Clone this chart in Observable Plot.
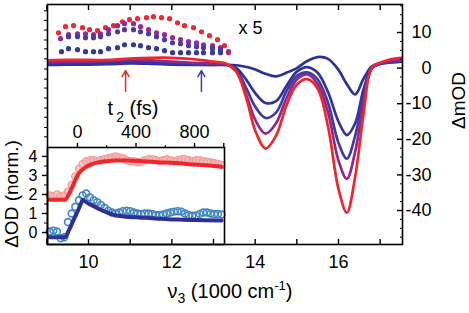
<!DOCTYPE html>
<html><head><meta charset="utf-8">
<script src="https://cdn.jsdelivr.net/npm/d3@7"></script>
<script src="https://cdn.jsdelivr.net/npm/@observablehq/plot@0.6"></script>
<style>
html,body{margin:0;padding:0;background:#fff;}
#chart{position:relative;width:469px;height:313px;}
#chart svg{position:absolute;left:0;top:0;}
</style></head><body><div id="chart"></div>
<script>
const FONT = "'Liberation Sans', Arial, Helvetica, sans-serif";

// ---- main spectra (ΔmOD vs ν3, 1000 cm-1) ----
const nu = [9.05, 9.5, 10, 10.5, 11, 11.5, 12, 12.5, 13, 13.3, 13.55, 13.8, 14.0, 14.25, 14.5, 14.75, 15.0, 15.25, 15.5, 15.75, 16.0, 16.2, 16.4, 16.6, 16.8, 17.0, 17.25, 17.5];
const specNavy1  = [0.9, 1.0, 1.0, 1.1, 1.3, 1.2, 1.0, 0.9, 0.9, 0.9, 0.8, 0.3, -0.4, -1.6, -2.3, -1.3, 0.0, 2.0, 3.1, 2.6, -0.5, -4.5, -7.4, -3.0, 0.5, 1.3, 1.6, 1.8];
const specNavy2  = [1.2, 1.3, 1.3, 1.4, 1.6, 1.5, 1.2, 1.0, 0.9, 0.9, 0.0, -3.5, -7.0, -9.8, -9.3, -5.0, -1.0, 0.3, -1.3, -6.8, -15.0, -18.8, -15.5, -6.0, 0.2, 1.2, 1.6, 1.8];
const specBlue   = [1.5, 1.7, 1.7, 1.9, 2.2, 2.0, 1.6, 1.3, 1.1, 1.0, -0.5, -6.0, -10.8, -14.0, -12.5, -6.5, -2.2, -1.2, -3.2, -9.8, -21.0, -25.4, -19.0, -8.0, 0.0, 1.2, 1.8, 2.0];
const specPurple = [1.7, 1.9, 1.9, 2.1, 2.5, 2.2, 1.8, 1.5, 1.3, 1.1, -1.0, -8.0, -14.5, -18.4, -15.5, -8.5, -3.2, -1.8, -4.5, -12.5, -26.0, -31.1, -23.5, -10.0, 0.0, 1.3, 2.0, 2.3];
const specRed    = [2.2, 2.3, 2.3, 2.3, 2.7, 2.9, 2.9, 2.5, 1.8, 1.3, -1.0, -9.0, -17.5, -22.6, -19.0, -10.5, -4.6, -3.1, -5.8, -16.5, -34.0, -40.6, -30.5, -13.0, 0.3, 1.5, 2.5, 2.9];
const specColors = ["#2e3192", "#33349b", "#403aa3", "#90278f", "#ef272d"];

// ---- x5 magnified dotted spectra ----
const redDotNu  = [9.280, 9.448, 9.640, 9.856, 10.024, 10.216, 10.408, 10.600, 10.816, 10.984, 11.176, 11.392, 11.560, 11.752, 11.944, 12.136, 12.304, 12.520, 12.712, 12.904, 13.096, 13.264, 13.360];
const redDotVal = [9.94, 11.63, 11.91, 11.35, 10.79, 10.51, 11.35, 11.91, 13.03, 13.6, 13.88, 14.16, 14.44, 14.16, 13.88, 12.75, 11.91, 11.35, 10.22, 9.1, 7.98, 6.29, 4.33];
const purpleDotNu  = [9.328, 9.520, 9.736, 9.928, 10.120, 10.288, 10.480, 10.696, 10.864, 11.080, 11.248, 11.440, 11.632, 11.824, 12.016, 12.208, 12.400, 12.592, 12.760, 12.976, 13.168, 13.360];
const purpleDotVal = [8.26, 9.38, 9.66, 9.66, 9.38, 9.66, 10.79, 11.91, 12.47, 12.47, 11.63, 10.79, 9.94, 9.38, 8.54, 7.98, 7.42, 7.13, 6.57, 6.29, 5.73, 4.61];
const blueDotNu  = [9.520, 9.736, 9.928, 10.120, 10.288, 10.480, 10.696, 10.864, 11.080, 11.248, 11.440, 11.632, 11.824, 12.016, 12.208, 12.400, 12.592, 12.760, 12.976, 13.168];
const blueDotVal = [8.82, 8.82, 8.54, 8.54, 8.82, 9.66, 10.22, 10.79, 10.79, 10.22, 9.66, 8.82, 7.98, 7.13, 6.85, 6.29, 6.01, 5.73, 5.45, 5.17];
const navyDotNu  = [9.352, 9.520, 9.736, 9.928, 10.120, 10.288, 10.480, 10.696, 10.864, 11.080, 11.248, 11.440, 11.632, 11.824, 12.016, 12.208, 12.400, 12.592, 12.760, 12.976, 13.168];
const navyDotVal = [4.61, 5.45, 5.17, 4.61, 4.61, 4.61, 5.45, 5.73, 6.57, 6.57, 6.29, 5.73, 5.45, 4.89, 4.33, 4.33, 4.33, 4.33, 4.33, 4.33, 4.33];
const dotColors = ["#ee2a2e", "#962a93", "#4a3ba0", "#34399b"];

// probe frequencies (arrows)
const arrowNu = [10.89, 12.71];
const arrowColors = ["#ee2a2e", "#3b3f9e"];
const arrowTail = -6.6, arrowHead = -0.7;

// ---- inset: kinetics ΔOD (norm.) vs t2 (fs) ----
const insetT = [-190,-165,-140,-115,-90,-65,-40,-15,10,35,60,85,110,135,160,185,210,235,260,285,310,335,360,385,410,435,460,485,510,535,560,585,610,635,660,685,710,735,760,785,810,835,860,885,910,935,960,985];
const redData  = [1.95,1.9,2.0,1.9,1.95,2.15,2.5,2.95,3.35,3.6,3.75,3.8,3.8,3.75,3.8,3.85,3.9,3.95,4.0,3.95,3.9,3.8,3.75,3.75,3.7,3.72,3.8,3.85,3.85,3.8,3.75,3.8,3.85,3.8,3.75,3.8,3.85,3.85,3.8,3.75,3.8,3.8,3.75,3.72,3.7,3.65,3.6,3.55];
const blueData = [0.05,0.1,0.05,-0.3,-0.25,0.55,1.0,1.35,1.7,1.95,2.05,1.85,1.7,1.6,1.45,1.3,1.15,1.05,1.0,1.05,1.12,1.15,1.12,1.05,1.0,0.97,1.0,1.0,0.97,0.93,0.92,0.95,1.0,1.05,1.1,1.12,1.1,1.0,0.92,0.88,0.9,0.98,1.05,1.05,1.0,0.97,0.97,0.95];
const redFitT = [-190, -85, -60, -30, 0, 25, 45, 70, 100, 146, 200, 260, 350, 450, 550, 690, 800, 900, 985];
const redFit  = [1.72, 1.72, 2.0, 2.5, 3.0, 3.25, 3.38, 3.5, 3.6, 3.7, 3.75, 3.78, 3.79, 3.75, 3.7, 3.64, 3.57, 3.52, 3.46];
const blueFitT = [-190, -85, -60, -30, 0, 20, 37, 55, 80, 100, 123, 150, 180, 210, 237, 280, 330, 400, 465, 550, 620, 693, 780, 870, 985];
const blueFit  = [-0.25, -0.25, 0.1, 0.6, 1.1, 1.45, 1.72, 1.62, 1.5, 1.42, 1.33, 1.22, 1.12, 1.03, 0.95, 0.88, 0.83, 0.8, 0.77, 0.73, 0.7, 0.68, 0.66, 0.645, 0.63];

// tick values
const xTicksMain = [9, 10, 11, 12, 13, 14, 15, 16, 17];
const xLabelsMain = [10, 12, 14, 16];
const yLabelsRight = [10, 0, -10, -20, -30, -40];
const yMinorRight = [17.5, 15, 12.5, 7.5, 5, 2.5, -2.5, -5, -7.5, -12.5, -15, -17.5, -22.5, -25, -27.5, -32.5, -35, -37.5, -42.5, -45, -47.5];
const yTicksLeft = [16.1, 13.4, 10.7, 7.9, 5.4, 2.6, -0.25, -3.1, -5.6, -8.4, -11.2, -13.8, -16.7, -19.3];
const tLabels = [0, 400, 800];
const tMajor = [0, 400, 800, 1000];
const tMinor = [200, 600];
const odLabels = [0, 1, 2, 3, 4];
const odMinor = [0.5, 1.5, 2.5, 3.5];

// ---- build rows ----
const specSeries = [specNavy1, specNavy2, specBlue, specPurple, specRed];
const specMarks = specSeries.map((vals, k) =>
  Plot.line(vals.map((v, i) => ({nu: nu[i], v})), {x: "nu", y: "v", stroke: specColors[k], strokeWidth: 2.7, curve: "catmull-rom"}));
const dotSeries = [[redDotNu, redDotVal], [purpleDotNu, purpleDotVal], [blueDotNu, blueDotVal], [navyDotNu, navyDotVal]];
const dotMarks = dotSeries.map(([xs, ys], k) =>
  Plot.dot(xs.map((x, i) => ({nu: x, v: ys[i]})), {x: "nu", y: "v", r: 2.6, fill: dotColors[k], stroke: "none"}));
const arrowRows = arrowNu.map((x, i) => ({nu: x, c: arrowColors[i]}));

const blank = () => "";
const main = Plot.plot({
  width: 469, height: 313,
  marginLeft: 47, marginRight: 67, marginTop: 4, marginBottom: 69,
  style: {background: "transparent", fontFamily: FONT, color: "black", overflow: "visible"},
  x: {domain: [9.016, 17.536], axis: null},
  y: {domain: [-49.55, 17.87], axis: null},
  marks: [
    ...dotMarks,
    ...specMarks,
    Plot.arrow(arrowRows, {x1: "nu", x2: "nu", y1: () => arrowTail, y2: () => arrowHead, stroke: "c", strokeWidth: 1.5, headLength: 7}),
    Plot.frame({stroke: "black", strokeWidth: 1.6}),
    Plot.axisX({anchor: "bottom", ticks: xTicksMain, tickSize: -5, tickFormat: blank, label: null, strokeWidth: 1.4}),
    Plot.axisX({anchor: "bottom", ticks: xLabelsMain, tickSize: 0, tickPadding: 11, tickFormat: d => String(d), fontSize: 18, label: null}),
    Plot.axisX({anchor: "top", ticks: xTicksMain, tickSize: -5, tickFormat: blank, label: null, strokeWidth: 1.4}),
    Plot.axisY({anchor: "right", ticks: yLabelsRight, tickSize: -6, tickFormat: blank, label: null, strokeWidth: 1.4}),
    Plot.axisY({anchor: "right", ticks: yMinorRight, tickSize: -3, tickFormat: blank, label: null}),
    Plot.axisY({anchor: "right", ticks: yLabelsRight, tickSize: 0, tickPadding: 29, textAnchor: "end", tickFormat: d => String(d), fontSize: 18, label: null}),
    Plot.axisY({anchor: "left", ticks: yTicksLeft, tickSize: 3, tickFormat: blank, label: null}),
    Plot.text(["x 5"], {frameAnchor: "top-left", dx: 191, dy: 29, textAnchor: "start", lineAnchor: "bottom", fontSize: 18}),
    Plot.text(["ΔmOD"], {frameAnchor: "top-right", dx: 49, dy: 96, textAnchor: "middle", rotate: -90, fontSize: 19}),
    Plot.text(["NU3LABEL"], {frameAnchor: "bottom", dx: 5, dy: 53, textAnchor: "middle", lineAnchor: "bottom", fontSize: 20})
  ]
});

const inset = Plot.plot({
  width: 469, height: 313,
  marginLeft: 47, marginRight: 245, marginTop: 147, marginBottom: 69,
  style: {background: "white", fontFamily: FONT, color: "black", overflow: "visible"},
  x: {domain: [-205, 1005], axis: null},
  y: {domain: [-0.63, 4.47], axis: null},
  marks: [
    Plot.dot(insetT.map((t, i) => ({t, v: redData[i]})), {x: "t", y: "v", r: 3.6, stroke: "#f29c9c", fill: "#f6b3b3", fillOpacity: 0.7, strokeWidth: 1.3}),
    Plot.dot(insetT.map((t, i) => ({t, v: blueData[i]})), {x: "t", y: "v", r: 3.4, stroke: "#3f86c8", fill: "none", strokeWidth: 1.6}),
    Plot.line(redFitT.map((t, i) => ({t, v: redFit[i]})), {x: "t", y: "v", stroke: "#ef272d", strokeWidth: 4, curve: "monotone-x"}),
    Plot.line(blueFitT.map((t, i) => ({t, v: blueFit[i]})), {x: "t", y: "v", stroke: "#2e3192", strokeWidth: 4, curve: "monotone-x"}),
    Plot.frame({stroke: "black", strokeWidth: 1.6}),
    Plot.axisX({anchor: "top", ticks: tMajor, tickSize: 5, tickFormat: blank, label: null, strokeWidth: 1.4}),
    Plot.axisX({anchor: "top", ticks: tMinor, tickSize: 3, tickFormat: blank, label: null}),
    Plot.axisX({anchor: "top", ticks: tLabels, tickSize: 0, tickPadding: 10, tickFormat: d => String(d), fontSize: 18, label: null}),
    Plot.axisY({anchor: "left", ticks: odLabels, tickSize: 5, tickFormat: blank, label: null, strokeWidth: 1.4}),
    Plot.axisY({anchor: "left", ticks: odMinor, tickSize: 3, tickFormat: blank, label: null}),
    Plot.axisY({anchor: "left", ticks: odLabels, tickSize: 0, tickPadding: 10, tickFormat: d => String(d), fontSize: 16, label: null}),
    Plot.text(["T2LABEL"], {frameAnchor: "top", dx: -3, dy: -33, textAnchor: "middle", lineAnchor: "bottom", fontSize: 20}),
    Plot.text(["ΔOD (norm.)"], {frameAnchor: "left", dx: -36, dy: -2, textAnchor: "middle", rotate: -90, fontSize: 19})
  ]
});

function rich(svg, key, parts) {
  svg.querySelectorAll("text").forEach(t => {
    if (t.textContent === key) {
      while (t.firstChild) t.removeChild(t.firstChild);
      for (const p of parts) {
        const ts = document.createElementNS("http://www.w3.org/2000/svg", "tspan");
        ts.textContent = p.s;
        if (p.dy) ts.setAttribute("dy", p.dy);
        if (p.dx) ts.setAttribute("dx", p.dx);
        if (p.fs) ts.setAttribute("font-size", p.fs);
        t.appendChild(ts);
      }
    }
  });
}
rich(main, "NU3LABEL", [{s: "ν"}, {s: "3", dy: 5, fs: 14}, {s: " (1000 cm", dy: -5}, {s: "-1", dy: -8, fs: 13}, {s: ")", dy: 8}]);
rich(inset, "T2LABEL", [{s: "t"}, {s: "2", dy: 7, dx: 3, fs: 14}, {s: " (fs)", dy: -7}]);

const chart = document.getElementById("chart");
chart.appendChild(inset);
chart.appendChild(main);
</script></body></html>
